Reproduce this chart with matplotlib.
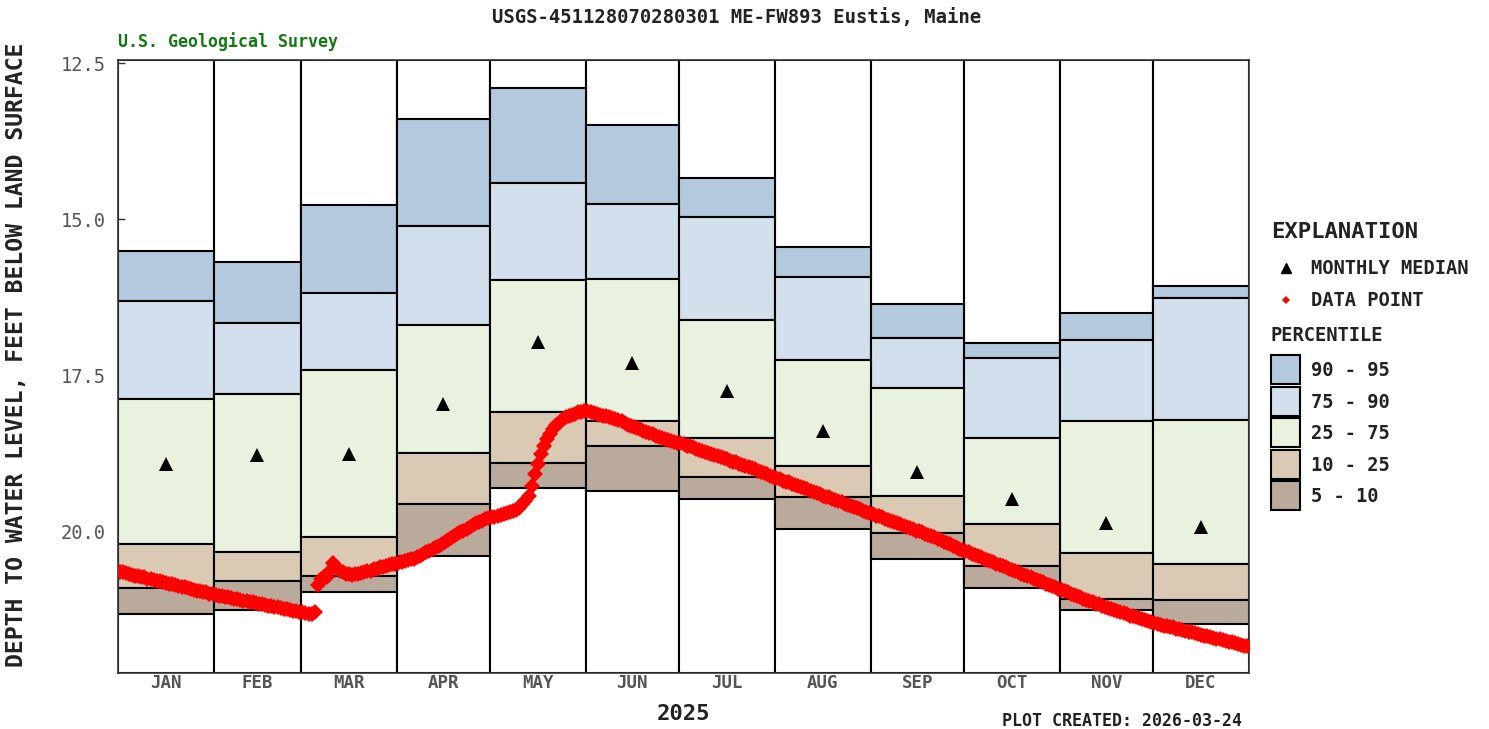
import matplotlib
matplotlib.use("Agg")
import matplotlib.pyplot as plt
from matplotlib.patches import Rectangle
import numpy as np

plt.rcParams['font.family'] = ['DejaVu Sans Mono', 'DejaVu Sans']

# ---- data -------------------------------------------------------------
months = ["JAN", "FEB", "MAR", "APR", "MAY", "JUN",
          "JUL", "AUG", "SEP", "OCT", "NOV", "DEC"]
month_days = [31, 28, 31, 30, 31, 30, 31, 31, 30, 31, 30, 31]

# monthly percentiles of depth to water (ft below land surface)
p95 = [15.51, 15.68, 14.77, 13.40, 12.90, 13.49, 14.34, 15.44, 16.35, 16.98, 16.50, 16.07]
p90 = [16.31, 16.66, 16.18, 15.11, 14.42, 14.75, 14.96, 15.92, 16.90, 17.22, 16.93, 16.26]
p75 = [17.87, 17.79, 17.41, 16.69, 15.97, 15.95, 16.61, 17.25, 17.70, 18.50, 18.23, 18.21]
p25 = [20.19, 20.32, 20.08, 18.74, 18.08, 18.23, 18.50, 18.94, 19.42, 19.87, 20.34, 20.51]
p10 = [20.90, 20.78, 20.70, 19.55, 18.90, 18.63, 19.12, 19.44, 20.02, 20.54, 21.07, 21.09]
p05 = [21.31, 21.25, 20.96, 20.38, 19.30, 19.34, 19.47, 19.95, 20.43, 20.90, 21.25, 21.47]
monthly_median = [18.91, 18.77, 18.75, 17.95, 16.96, 17.30, 17.75, 18.39, 19.04, 19.47, 19.86, 19.92]

# daily depth to water in 2025, Jan 1 .. Dec 31
daily_depth = [
    # Jan
    20.64, 20.65, 20.66, 20.67, 20.69, 20.70, 20.71, 20.72, 20.73, 20.75, 20.76,
    20.77, 20.78, 20.79, 20.81, 20.82, 20.83, 20.84, 20.85, 20.87, 20.88, 20.89,
    20.90, 20.91, 20.93, 20.94, 20.95, 20.96, 20.97, 20.99, 21.00,
    # Feb
    21.01, 21.02, 21.03, 21.04, 21.05, 21.06, 21.07, 21.08, 21.09, 21.10, 21.11,
    21.12, 21.13, 21.14, 21.15, 21.16, 21.17, 21.18, 21.19, 21.20, 21.21, 21.22,
    21.23, 21.24, 21.25, 21.26, 21.27, 21.28,
    # Mar
    21.29, 21.30, 21.31, 21.32, 21.29, 20.85, 20.76, 20.72, 20.73, 20.62, 20.50,
    20.56, 20.62, 20.65, 20.67, 20.68, 20.69, 20.68, 20.67, 20.66, 20.64, 20.63,
    20.62, 20.60, 20.59, 20.57, 20.56, 20.55, 20.53, 20.52, 20.51,
    # Apr
    20.50, 20.48, 20.47, 20.45, 20.44, 20.43, 20.41, 20.39, 20.36, 20.33, 20.30,
    20.27, 20.25, 20.22, 20.19, 20.16, 20.13, 20.10, 20.07, 20.04, 20.01, 19.98,
    19.95, 19.92, 19.89, 19.86, 19.84, 19.82, 19.80, 19.78,
    # May
    19.77, 19.76, 19.74, 19.73, 19.72, 19.70, 19.69, 19.67, 19.65, 19.62, 19.56,
    19.50, 19.42, 19.26, 19.08, 18.92, 18.75, 18.62, 18.52, 18.43, 18.36, 18.29,
    18.24, 18.20, 18.17, 18.15, 18.13, 18.11, 18.09, 18.08, 18.07,
    # Jun
    18.07, 18.08, 18.10, 18.12, 18.13, 18.14, 18.15, 18.17, 18.18, 18.19, 18.21,
    18.23, 18.26, 18.29, 18.31, 18.32, 18.34, 18.36, 18.38, 18.40, 18.42, 18.44,
    18.46, 18.48, 18.50, 18.51, 18.53, 18.54, 18.56, 18.58,
    # Jul
    18.58, 18.60, 18.62, 18.63, 18.65, 18.67, 18.69, 18.70, 18.72, 18.74, 18.75,
    18.77, 18.79, 18.81, 18.82, 18.84, 18.86, 18.88, 18.89, 18.91, 18.93, 18.94,
    18.96, 18.98, 19.00, 19.02, 19.04, 19.06, 19.08, 19.10, 19.12,
    # Aug
    19.14, 19.16, 19.18, 19.20, 19.21, 19.23, 19.25, 19.27, 19.28, 19.30, 19.32,
    19.34, 19.36, 19.38, 19.40, 19.42, 19.44, 19.45, 19.47, 19.49, 19.51, 19.53,
    19.55, 19.57, 19.59, 19.61, 19.62, 19.64, 19.66, 19.68, 19.70,
    # Sep
    19.72, 19.74, 19.75, 19.77, 19.79, 19.81, 19.82, 19.84, 19.86, 19.88, 19.90,
    19.92, 19.94, 19.96, 19.98, 19.99, 20.01, 20.03, 20.05, 20.07, 20.09, 20.11,
    20.13, 20.16, 20.18, 20.20, 20.22, 20.25, 20.27, 20.29,
    # Oct
    20.31, 20.33, 20.35, 20.37, 20.39, 20.41, 20.43, 20.45, 20.47, 20.49, 20.51,
    20.53, 20.55, 20.57, 20.59, 20.61, 20.63, 20.65, 20.67, 20.69, 20.71, 20.73,
    20.75, 20.77, 20.79, 20.81, 20.83, 20.85, 20.87, 20.89, 20.91,
    # Nov
    20.93, 20.95, 20.97, 20.99, 21.01, 21.03, 21.05, 21.07, 21.09, 21.11, 21.13,
    21.15, 21.16, 21.18, 21.20, 21.22, 21.23, 21.25, 21.27, 21.29, 21.30, 21.32,
    21.34, 21.35, 21.37, 21.38, 21.40, 21.41, 21.43, 21.44,
    # Dec
    21.46, 21.47, 21.49, 21.50, 21.51, 21.52, 21.53, 21.55, 21.56, 21.57, 21.58,
    21.60, 21.61, 21.62, 21.63, 21.65, 21.66, 21.67, 21.68, 21.70, 21.71, 21.72,
    21.73, 21.75, 21.76, 21.77, 21.78, 21.80, 21.81, 21.82, 21.83,
]

y_ticks = [12.5, 15.0, 17.5, 20.0]
y_top, y_bottom = 12.45, 22.26

band_labels = ["90 - 95", "75 - 90", "25 - 75", "10 - 25", "5 - 10"]
band_colors = ["#b3cade", "#d2dfec", "#e8f2de", "#dacab4", "#b9aa9b"]

# ---- figure -------------------------------------------------------------
W, H = 1489, 729
fig = plt.figure(figsize=(W / 100, H / 100), dpi=100)
ax = fig.add_axes([118 / W, 1 - 673 / H, (1249 - 118) / W, (673 - 60) / H])

starts = np.concatenate([[0], np.cumsum(month_days)[:-1]])
widths = np.array(month_days)
mids = starts + widths / 2

lw = 1.5
# full-height white column for every month
ax.bar(starts, y_bottom - y_top, bottom=y_top, width=widths, align='edge',
       color='white', edgecolor='black', linewidth=lw, zorder=1)

bounds = [p95, p90, p75, p25, p10, p05]
for i, col in enumerate(band_colors):
    lo = np.array(bounds[i])
    hi = np.array(bounds[i + 1])
    ax.bar(starts, hi - lo, bottom=lo, width=widths, align='edge',
           color=col, edgecolor='black', linewidth=lw, zorder=2)

days = np.arange(len(daily_depth)) + 0.5
ax.plot(days, daily_depth, linestyle='none', marker='D', ms=7.8,
        color='#ff0000', markeredgewidth=0, zorder=4)

ax.plot(mids, monthly_median, linestyle='none', marker='^', ms=9.5,
        color='black', markeredgewidth=0, zorder=5)

ax.set_xlim(0, 365)
ax.set_ylim(y_bottom, y_top)
ax.set_yticks(y_ticks)
ax.set_yticklabels([f"{v:.1f}" for v in y_ticks])
ax.tick_params(axis='y', direction='in', length=5, width=1, color='#333333',
               labelsize=13.5, labelcolor='#555555', pad=9)
ax.set_xticks(mids)
ax.set_xticklabels(months, fontweight='bold')
ax.tick_params(axis='x', length=0, labelsize=12.5, labelcolor='#555555', pad=1)
for s in ax.spines.values():
    s.set_color('#333333')
    s.set_linewidth(1.2)

ax.set_xlabel("2025", fontsize=16, fontweight='bold', color='#222222', labelpad=8)

fig.text(737 / W, 1 - 18 / H, "USGS-451128070280301 ME-FW893 Eustis, Maine",
         ha='center', va='center', fontsize=13.6, fontweight='bold', color='#222222')
fig.text(118 / W, 1 - 42 / H, "U.S. Geological Survey", ha='left', va='center',
         fontsize=12, fontweight='bold', color='#137a13')
fig.text(17 / W, 1 - 355 / H, "DEPTH TO WATER LEVEL, FEET BELOW LAND SURFACE",
         ha='center', va='center', rotation=90, fontsize=16.7, fontweight='bold',
         color='#222222')
fig.text(1242 / W, 1 - 721 / H, "PLOT CREATED: 2026-03-24", ha='right',
         va='center', fontsize=12, fontweight='bold', color='#222222')

# ---- explanation panel --------------------------------------------------
lg = fig.add_axes([0, 0, 1, 1])
lg.set_xlim(0, W)
lg.set_ylim(H, 0)
lg.axis('off')
lg.patch.set_alpha(0)

lg.text(1271, 232, "EXPLANATION", ha='left', va='center', fontsize=16,
        fontweight='bold', color='#222222')
lg.plot([1286], [268], marker='^', ms=7, color='black', linestyle='none')
lg.text(1311, 268, "MONTHLY MEDIAN", ha='left', va='center', fontsize=13.5,
        fontweight='bold', color='#222222')
lg.plot([1286], [300], marker='D', ms=4, color='#ff0000', linestyle='none',
        markeredgewidth=0)
lg.text(1311, 300, "DATA POINT", ha='left', va='center', fontsize=13.5,
        fontweight='bold', color='#222222')
lg.text(1271, 335, "PERCENTILE", ha='left', va='center', fontsize=13.5,
        fontweight='bold', color='#222222')
box_tops = [355, 387, 418, 450, 481]
for top, col, lab in zip(box_tops, band_colors, band_labels):
    lg.add_patch(Rectangle((1271, top), 29, 29, facecolor=col,
                           edgecolor='black', linewidth=1.5))
    lg.text(1311, top + 15, lab, ha='left', va='center', fontsize=13.5,
            fontweight='bold', color='#222222')

fig.savefig("out.png", dpi=100)
